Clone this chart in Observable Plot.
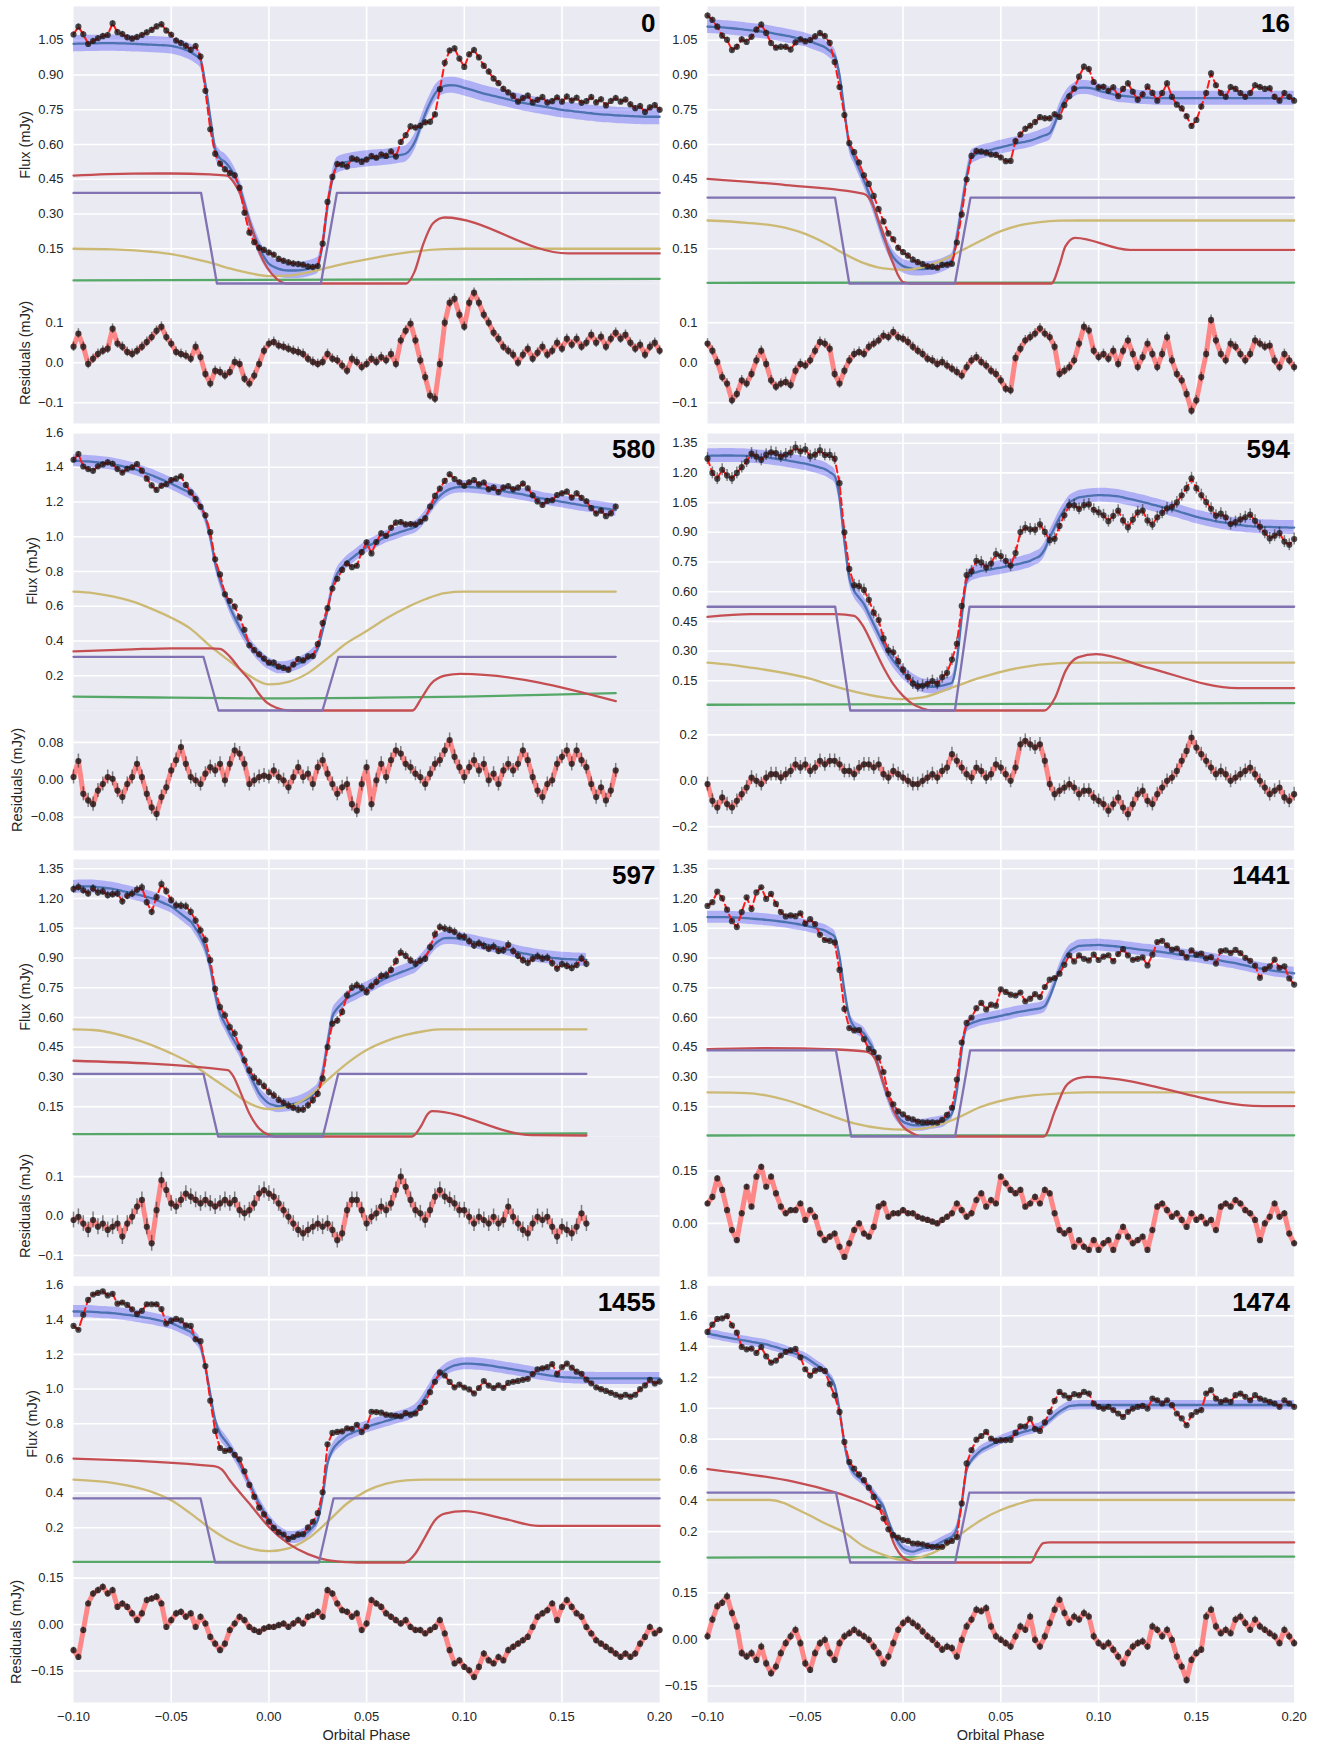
<!DOCTYPE html>
<html><head><meta charset="utf-8">
<script src="https://cdn.jsdelivr.net/npm/d3@7"></script>
<script src="https://cdn.jsdelivr.net/npm/@observablehq/plot@0.6"></script>
<style>
body{margin:0;background:#fff;}
#fig{position:relative;width:1319px;height:1744px;background:#fff;font-family:"Liberation Sans",Arial,sans-serif;color:#262626;overflow:hidden}
.lbl{position:absolute;font-size:14.5px;white-space:nowrap;color:#262626;line-height:1}
.vl{transform:translate(-50%,-50%) rotate(-90deg)}
.hl{transform:translate(-50%,-50%)}
.num{position:absolute;font-weight:bold;font-size:26px;color:#000;line-height:1;transform:translateX(-100%)}
</style></head><body><div id="fig"></div>
<script>
// ---------- DATA ----------
const PHASE = [-0.1,-0.0975,-0.095,-0.0925,-0.09,-0.0875,-0.085,-0.0825,-0.08,-0.0775,
-0.075,-0.0725,-0.07,-0.0675,-0.065,-0.0625,-0.06,-0.0575,-0.055,-0.0525,
-0.05,-0.0475,-0.045,-0.0425,-0.04,-0.0375,-0.035,-0.0325,-0.03,-0.0275,
-0.025,-0.0225,-0.02,-0.0175,-0.015,-0.0125,-0.01,-0.0075,-0.005,-0.0025,
0,0.0025,0.005,0.0075,0.01,0.0125,0.015,0.0175,0.02,0.0225,
0.025,0.0275,0.03,0.0325,0.035,0.0375,0.04,0.0425,0.045,0.0475,
0.05,0.0525,0.055,0.0575,0.06,0.0625,0.065,0.0675,0.07,0.0725,
0.075,0.0775,0.08,0.0825,0.085,0.0875,0.09,0.0925,0.095,0.0975,
0.1,0.1025,0.105,0.1075,0.11,0.1125,0.115,0.1175,0.12,0.1225,
0.125,0.1275,0.13,0.1325,0.135,0.1375,0.14,0.1425,0.145,0.1475,
0.15,0.1525,0.155,0.1575,0.16,0.1625,0.165,0.1675,0.17,0.1725,
0.175,0.1775,0.18,0.1825,0.185,0.1875,0.19,0.1925,0.195,0.1975,
0.2];
const XTICKS = [-0.1,-0.05,0,0.05,0.1,0.15,0.2];
const XGRID = [-0.05,0,0.05,0.1,0.15];

// ----- panel 0 -----
const model0 = [1.035,1.036,1.036,1.037,1.037,1.037,1.038,1.038,1.038,1.037,
1.037,1.036,1.035,1.034,1.033,1.032,1.031,1.03,1.029,1.028,
1.026,1.022,1.016,1.008,0.999,0.985,0.966,0.86,0.718,0.58,
0.54,0.525,0.5,0.465,0.416,0.345,0.272,0.21,0.157,0.115,
0.085,0.072,0.063,0.058,0.056,0.056,0.057,0.059,0.063,0.069,
0.078,0.17,0.33,0.45,0.51,0.52,0.525,0.53,0.533,0.536,
0.538,0.54,0.541,0.543,0.545,0.548,0.551,0.555,0.56,0.58,
0.617,0.675,0.732,0.78,0.82,0.842,0.853,0.856,0.855,0.851,
0.845,0.839,0.833,0.826,0.82,0.815,0.81,0.805,0.8,0.795,
0.79,0.785,0.78,0.776,0.772,0.768,0.765,0.761,0.757,0.753,
0.75,0.747,0.745,0.742,0.74,0.737,0.735,0.732,0.73,0.729,
0.728,0.726,0.725,0.724,0.723,0.722,0.721,0.72,0.72,0.72,
0.72];
const res0 = [0.04,0.073,0.04,-0.003,0.01,0.022,0.03,0.035,0.085,0.048,
0.04,0.027,0.022,0.03,0.04,0.052,0.064,0.08,0.09,0.064,
0.048,0.027,0.022,0.018,0.01,0.04,0.014,-0.028,-0.052,-0.02,
-0.023,-0.032,-0.023,0.002,-0.003,-0.04,-0.052,-0.032,-0.003,0.03,
0.048,0.052,0.043,0.04,0.035,0.03,0.027,0.022,0.01,0.002,
-0.003,0.002,0.022,0.01,0.006,-0.007,-0.02,0.01,0.002,-0.011,
-0.003,0.01,0.002,0.014,0.006,0.022,-0.003,0.056,0.08,0.098,
0.056,0.006,-0.036,-0.082,-0.09,-0.003,0.1,0.15,0.16,0.12,
0.09,0.15,0.175,0.15,0.12,0.1,0.075,0.06,0.04,0.03,
0.02,0.0,0.02,0.035,0.01,0.025,0.04,0.02,0.03,0.05,
0.035,0.06,0.045,0.06,0.04,0.05,0.07,0.05,0.065,0.04,
0.06,0.075,0.06,0.07,0.05,0.035,0.045,0.02,0.04,0.05,
0.03];
const purple0 = [[-0.1,0.391],[-0.0347,0.391],[-0.0266,0],[0.0266,0],[0.0348,0.391],[0.2,0.391]];
const red0 = [[-0.1,0.466],[-0.07,0.474],[-0.05,0.475],[-0.03,0.471],[-0.0215,0.466],[-0.018,0.437],[-0.0147,0.387],[-0.0113,0.3],[-0.0079,0.214],[-0.0045,0.128],[-0.001,0.07],[0.004,0.02],[0.009,0],[0.0703,0],[0.0745,0.05],[0.079,0.17],[0.084,0.26],[0.09,0.285],[0.153,0.13],[0.2,0.13]];
const yellow0 = [[-0.1,0.15],[-0.08,0.147],[-0.06,0.137],[-0.05,0.127],[-0.04,0.11],[-0.03,0.09],[-0.02,0.065],[-0.01,0.045],[0,0.032],[0.01,0.034],[0.02,0.048],[0.03,0.068],[0.04,0.088],[0.05,0.104],[0.06,0.12],[0.07,0.133],[0.08,0.143],[0.09,0.148],[0.1,0.15],[0.2,0.15]];
const green0 = [[-0.1,0.013],[0.2,0.02]];

// ----- panel 16 -----
const model16 = [1.109,1.108,1.107,1.106,1.104,1.102,1.1,1.098,1.095,1.093,
1.09,1.088,1.085,1.082,1.078,1.074,1.07,1.066,1.061,1.057,
1.052,1.045,1.037,1.029,1.02,1.004,0.984,0.9,0.747,0.6,
0.545,0.495,0.445,0.39,0.33,0.265,0.2,0.152,0.114,0.09,
0.075,0.068,0.063,0.062,0.062,0.064,0.066,0.071,0.078,0.088,
0.1,0.2,0.33,0.46,0.545,0.558,0.567,0.572,0.577,0.583,
0.588,0.593,0.598,0.603,0.608,0.612,0.617,0.624,0.632,0.64,
0.649,0.69,0.747,0.79,0.819,0.835,0.845,0.846,0.845,0.84,
0.833,0.827,0.822,0.817,0.812,0.81,0.808,0.806,0.804,0.803,
0.802,0.801,0.8,0.8,0.8,0.8,0.8,0.8,0.8,0.8,
0.8,0.8,0.8,0.8,0.8,0.8,0.8,0.8,0.8,0.8,
0.8,0.8,0.8,0.8,0.8,0.8,0.8,0.8,0.8,0.8,
0.8];
const res16 = [0.048,0.03,0.002,-0.036,-0.052,-0.094,-0.078,-0.044,-0.052,-0.028,
0.006,0.03,-0.003,-0.044,-0.06,-0.052,-0.048,-0.056,-0.02,-0.003,
-0.007,0.006,0.03,0.052,0.048,0.035,-0.028,-0.052,-0.02,0.006,
0.022,0.027,0.022,0.04,0.048,0.056,0.068,0.064,0.077,0.064,
0.06,0.052,0.04,0.03,0.022,0.01,0.006,-0.003,0.002,-0.007,
-0.015,-0.023,-0.032,-0.011,0.006,0.014,0.002,-0.007,-0.02,-0.028,
-0.044,-0.065,-0.069,0.012,0.035,0.056,0.064,0.073,0.086,0.073,
0.064,0.04,-0.028,-0.02,-0.011,0.006,0.048,0.09,0.081,0.03,
0.014,0.022,0.01,0.03,-0.003,0.03,0.056,0.022,-0.011,0.014,
0.048,0.022,-0.011,0.022,0.064,0.006,-0.028,-0.044,-0.078,-0.12,
-0.094,-0.036,0.022,0.107,0.056,0.022,0.006,0.048,0.04,0.022,
0.006,0.022,0.056,0.048,0.04,0.043,0.006,-0.011,0.022,0.006,
-0.011];
const purple16 = [[-0.1,0.371],[-0.0348,0.371],[-0.0275,0],[0.0265,0],[0.0345,0.371],[0.2,0.371]];
const red16 = [[-0.1,0.452],[-0.06,0.425],[-0.02,0.387],[-0.0175,0.37],[-0.015,0.33],[-0.0125,0.27],[-0.01,0.214],[-0.0075,0.14],[-0.005,0.085],[-0.0025,0.035],[0,0.006],[0.004,0],[0.0758,0],[0.08,0.08],[0.083,0.16],[0.088,0.197],[0.116,0.145],[0.2,0.145]];
const yellow16 = [[-0.1,0.272],[-0.08,0.262],[-0.06,0.24],[-0.05,0.214],[-0.04,0.175],[-0.03,0.128],[-0.02,0.088],[-0.01,0.065],[0,0.059],[0.01,0.07],[0.02,0.1],[0.03,0.142],[0.04,0.186],[0.05,0.226],[0.06,0.252],[0.07,0.265],[0.08,0.271],[0.09,0.272],[0.2,0.272]];
const green16 = [[-0.1,0.003],[0.2,0.004]];

// ----- panel 580 -----
const model580 = [1.437,1.436,1.434,1.433,1.431,1.428,1.425,1.422,1.418,1.412,
1.406,1.4,1.393,1.384,1.374,1.364,1.354,1.342,1.33,1.318,
1.306,1.292,1.278,1.264,1.249,1.218,1.181,1.11,0.999,0.85,
0.749,0.67,0.596,0.535,0.48,0.43,0.384,0.348,0.317,0.29,
0.269,0.255,0.246,0.246,0.25,0.258,0.269,0.282,0.298,0.322,
0.355,0.461,0.576,0.711,0.788,0.825,0.855,0.877,0.899,0.92,
0.941,0.956,0.97,0.985,0.999,1.009,1.018,1.028,1.037,1.046,
1.057,1.08,1.114,1.16,1.201,1.235,1.258,1.274,1.283,1.286,
1.287,1.286,1.284,1.281,1.278,1.274,1.27,1.266,1.262,1.257,
1.253,1.248,1.243,1.237,1.232,1.226,1.22,1.215,1.211,1.206,
1.201,1.196,1.191,1.186,1.181,1.177,1.174,1.17,1.166,1.162,
1.157,1.153];
const res580 = [0.006,0.04,-0.03,-0.044,-0.052,-0.023,-0.009,0.006,0.002,-0.023,
-0.037,-0.009,0.006,0.034,0.006,-0.03,-0.059,-0.073,-0.037,-0.016,
0.02,0.042,0.07,0.034,0.006,-0.001,-0.009,0.013,0.027,0.02,
0.034,-0.001,0.034,0.063,0.056,0.034,-0.009,-0.001,0.006,0.009,
0.006,0.02,0.006,-0.001,-0.016,0.006,0.027,0.006,0.013,-0.009,
0.027,0.042,0.013,-0.009,-0.03,-0.016,-0.009,-0.052,-0.066,-0.009,
0.027,-0.052,-0.001,0.034,0.006,0.042,0.063,0.056,0.034,0.027,
0.013,0.006,-0.009,0.013,0.034,0.042,0.063,0.085,0.049,0.027,
0.006,0.027,0.042,0.02,0.034,-0.001,0.013,-0.009,0.02,0.034,
0.02,0.034,0.063,0.042,0.006,-0.023,-0.037,-0.009,-0.001,0.034,
0.049,0.063,0.034,0.063,0.042,0.027,-0.009,-0.037,-0.016,-0.044,
-0.023,0.02];
const purple580 = [[-0.1,0.309],[-0.0335,0.309],[-0.0258,0],[0.0274,0],[0.0355,0.309],[0.1775,0.309]];
const red580 = [[-0.1,0.34],[-0.07,0.352],[-0.05,0.358],[-0.03,0.358],[-0.025,0.355],[-0.02,0.31],[-0.015,0.24],[-0.0095,0.17],[-0.005,0.095],[-0.001,0.045],[0.004,0.015],[0.0075,0.004],[0.0125,0],[0.0735,0],[0.078,0.07],[0.083,0.154],[0.09,0.2],[0.098,0.211],[0.1775,0.054]];
const yellow580 = [[-0.1,0.684],[-0.09,0.676],[-0.08,0.657],[-0.07,0.628],[-0.06,0.585],[-0.05,0.534],[-0.04,0.47],[-0.03,0.37],[-0.02,0.283],[-0.01,0.2],[0,0.15],[0.01,0.165],[0.02,0.215],[0.03,0.3],[0.04,0.39],[0.05,0.457],[0.06,0.53],[0.07,0.59],[0.08,0.64],[0.09,0.676],[0.1,0.684],[0.1775,0.684]];
const green580 = [[-0.1,0.08],[-0.05,0.074],[0,0.07],[0.05,0.073],[0.1,0.08],[0.14,0.09],[0.1775,0.1]];

// ----- panel 594 -----
const model594 = [1.286,1.287,1.287,1.288,1.288,1.288,1.287,1.287,1.286,1.284,
1.282,1.28,1.278,1.275,1.271,1.268,1.264,1.26,1.256,1.251,
1.247,1.241,1.234,1.227,1.219,1.204,1.185,1.076,0.857,0.672,
0.604,0.57,0.537,0.487,0.436,0.385,0.335,0.29,0.251,0.22,
0.192,0.17,0.15,0.136,0.125,0.121,0.12,0.121,0.125,0.132,
0.141,0.25,0.47,0.655,0.689,0.698,0.705,0.709,0.713,0.718,
0.722,0.727,0.732,0.737,0.742,0.749,0.756,0.768,0.781,0.815,
0.874,0.925,0.975,1.015,1.05,1.065,1.076,1.08,1.084,1.086,
1.088,1.087,1.086,1.084,1.081,1.076,1.07,1.065,1.059,1.053,
1.047,1.04,1.034,1.027,1.021,1.014,1.008,1.0,0.993,0.985,
0.978,0.972,0.966,0.961,0.955,0.951,0.947,0.942,0.938,0.936,
0.933,0.931,0.929,0.928,0.927,0.927,0.926,0.925,0.925,0.924,
0.924];
const res594 = [-0.014,-0.087,-0.116,-0.072,-0.101,-0.116,-0.087,-0.058,-0.029,0.014,
0.0,-0.014,0.014,0.029,0.029,0.014,0.029,0.043,0.072,0.058,
0.072,0.043,0.058,0.087,0.072,0.087,0.087,0.072,0.043,0.043,
0.029,0.058,0.072,0.072,0.058,0.072,0.029,0.014,0.043,0.029,
0.014,0.0,-0.014,-0.014,0.0,0.014,0.029,0.014,0.043,0.058,
0.116,0.087,0.058,0.029,0.014,0.058,0.043,0.014,0.029,0.072,
0.058,0.029,0.0,0.058,0.159,0.174,0.159,0.145,0.159,0.087,
-0.014,-0.058,-0.043,-0.029,-0.014,-0.029,-0.058,-0.043,-0.043,-0.072,
-0.087,-0.101,-0.13,-0.101,-0.072,-0.116,-0.145,-0.101,-0.058,-0.043,
-0.087,-0.101,-0.058,-0.029,0.0,0.014,0.043,0.087,0.13,0.188,
0.145,0.116,0.087,0.058,0.029,0.043,0.029,0.0,0.014,0.029,
0.043,0.058,0.029,0.0,-0.029,-0.058,-0.043,-0.029,-0.072,-0.087,
-0.058];
const purple594 = [[-0.1,0.524],[-0.0347,0.524],[-0.027,0],[0.0265,0],[0.034,0.524],[0.2,0.524]];
const red594 = [[-0.1,0.473],[-0.078,0.487],[-0.034,0.487],[-0.025,0.478],[-0.02,0.419],[-0.015,0.318],[-0.01,0.217],[-0.005,0.133],[0,0.074],[0.005,0.032],[0.01,0.01],[0.015,0],[0.0722,0],[0.0778,0.066],[0.0831,0.2],[0.0894,0.268],[0.0988,0.285],[0.125,0.217],[0.1711,0.113],[0.2,0.113]];
const yellow594 = [[-0.1,0.242],[-0.09,0.233],[-0.078,0.217],[-0.05,0.167],[-0.03,0.108],[-0.01,0.066],[0,0.057],[0.01,0.066],[0.025,0.116],[0.04,0.167],[0.06,0.217],[0.08,0.239],[0.093,0.242],[0.2,0.242]];
const green594 = [[-0.1,0.029],[0.2,0.037]];

// ----- panel 597 -----
const model597 = [1.258,1.26,1.261,1.261,1.261,1.258,1.255,1.252,1.249,1.244,
1.238,1.233,1.227,1.221,1.215,1.209,1.202,1.192,1.182,1.171,
1.16,1.142,1.123,1.104,1.084,1.048,1.008,0.95,0.857,0.72,
0.621,0.57,0.52,0.478,0.436,0.377,0.318,0.265,0.217,0.188,
0.167,0.158,0.153,0.155,0.158,0.164,0.17,0.18,0.192,0.21,
0.234,0.32,0.47,0.604,0.646,0.672,0.697,0.71,0.722,0.735,
0.747,0.76,0.773,0.786,0.798,0.808,0.818,0.828,0.837,0.847,
0.857,0.88,0.907,0.94,0.971,0.99,1.0,1.001,1.0,0.996,
0.992,0.987,0.982,0.976,0.971,0.966,0.96,0.955,0.949,0.943,
0.937,0.93,0.924,0.92,0.915,0.911,0.907,0.904,0.901,0.899,
0.896,0.895,0.894,0.892,0.891,0.89];
const res597 = [-0.01,-0.002,-0.019,-0.035,-0.01,-0.027,-0.019,-0.035,-0.027,-0.019,
-0.052,-0.019,-0.002,0.024,0.041,-0.027,-0.069,0.015,0.091,0.066,
0.032,0.024,0.041,0.057,0.049,0.041,0.032,0.041,0.032,0.024,
0.032,0.041,0.032,0.041,0.015,0.007,0.015,0.032,0.057,0.066,
0.057,0.049,0.032,0.015,-0.002,-0.019,-0.035,-0.044,-0.035,-0.027,
-0.019,-0.027,-0.019,-0.035,-0.061,-0.044,0.015,0.041,0.041,0.015,
-0.019,-0.002,0.007,0.024,0.015,0.032,0.066,0.1,0.074,0.041,
0.015,0.007,-0.01,0.015,0.049,0.066,0.049,0.041,0.032,0.015,
0.015,-0.002,-0.019,-0.002,-0.01,-0.019,-0.002,-0.019,-0.01,0.024,
-0.002,-0.019,-0.035,-0.044,-0.019,-0.002,-0.01,-0.002,-0.027,-0.052,
-0.027,-0.035,-0.044,-0.027,0.007,-0.019];
const purple597 = [[-0.1,0.316],[-0.0335,0.316],[-0.026,0],[0.0276,0],[0.0355,0.316],[0.1625,0.316]];
const red597 = [[-0.1,0.382],[-0.021,0.335],[-0.018,0.3],[-0.015,0.234],[-0.01,0.116],[-0.005,0.04],[0,0.007],[0.003,0],[0.0732,0],[0.0783,0.06],[0.081,0.11],[0.0835,0.128],[0.1345,0.007],[0.1625,0.005]];
const yellow597 = [[-0.1,0.54],[-0.09,0.537],[-0.07,0.495],[-0.05,0.419],[-0.04,0.369],[-0.03,0.301],[-0.02,0.234],[-0.01,0.167],[0,0.138],[0.01,0.15],[0.02,0.2],[0.03,0.285],[0.04,0.369],[0.05,0.436],[0.06,0.481],[0.07,0.512],[0.08,0.532],[0.088,0.54],[0.1625,0.54]];
const green597 = [[-0.1,0.012],[0.1625,0.015]];

// ----- panel 1441 -----
const model1441 = [1.106,1.106,1.106,1.106,1.106,1.105,1.104,1.103,1.101,1.099,
1.097,1.095,1.093,1.09,1.087,1.084,1.081,1.077,1.073,1.069,
1.064,1.058,1.052,1.046,1.039,1.025,1.008,0.907,0.739,0.604,
0.554,0.537,0.52,0.48,0.436,0.35,0.268,0.195,0.133,0.098,
0.074,0.064,0.057,0.056,0.057,0.061,0.066,0.07,0.074,0.09,
0.116,0.23,0.436,0.554,0.571,0.58,0.588,0.593,0.598,0.603,
0.608,0.614,0.619,0.625,0.63,0.634,0.638,0.642,0.646,0.658,
0.705,0.77,0.84,0.895,0.933,0.95,0.961,0.963,0.964,0.965,
0.966,0.964,0.962,0.96,0.958,0.955,0.951,0.948,0.944,0.941,
0.939,0.936,0.933,0.93,0.926,0.923,0.919,0.916,0.913,0.91,
0.907,0.903,0.899,0.895,0.891,0.887,0.882,0.878,0.874,0.868,
0.863,0.857,0.852,0.848,0.844,0.839,0.835,0.832,0.829,0.826,
0.823];
const res1441 = [0.057,0.076,0.129,0.096,0.038,-0.019,-0.048,0.029,0.105,0.048,
0.134,0.162,0.105,0.134,0.086,0.048,0.029,0.038,0.038,0.057,
0.01,0.038,0.019,-0.029,-0.048,-0.038,-0.029,-0.067,-0.096,-0.057,
-0.019,0.0,-0.029,-0.038,-0.01,0.048,0.057,0.019,0.029,0.029,
0.038,0.029,0.029,0.019,0.014,0.01,0.005,0.0,0.01,0.019,
0.029,0.057,0.038,0.019,0.029,0.067,0.086,0.048,0.067,0.057,
0.134,0.115,0.096,0.086,0.096,0.048,0.057,0.076,0.057,0.096,
0.086,0.029,-0.019,-0.029,-0.019,-0.067,-0.048,-0.067,-0.076,-0.048,
-0.076,-0.057,-0.048,-0.076,-0.038,-0.01,-0.038,-0.057,-0.048,-0.038,
-0.076,-0.019,0.048,0.057,0.038,0.019,0.029,0.01,-0.01,0.029,
0.01,0.019,0.0,0.01,-0.019,0.048,0.057,0.048,0.067,0.057,
0.038,0.029,0.01,-0.048,0.0,0.019,0.057,0.019,0.029,-0.029,
-0.057];
const purple1441 = [[-0.1,0.434],[-0.0343,0.434],[-0.0265,0],[0.0266,0],[0.0343,0.434],[0.2,0.434]];
const red1441 = [[-0.1,0.441],[-0.07,0.446],[-0.034,0.439],[-0.019,0.428],[-0.015,0.402],[-0.01,0.268],[-0.005,0.133],[0,0.049],[0.005,0.015],[0.01,0],[0.072,0],[0.0778,0.133],[0.083,0.251],[0.089,0.293],[0.094,0.301],[0.184,0.153],[0.2,0.153]];
const yellow1441 = [[-0.1,0.222],[-0.08,0.219],[-0.07,0.207],[-0.06,0.184],[-0.05,0.152],[-0.04,0.116],[-0.025,0.066],[-0.01,0.04],[0,0.035],[0.01,0.04],[0.025,0.082],[0.04,0.15],[0.06,0.2],[0.08,0.217],[0.093,0.222],[0.2,0.222]];
const green1441 = [[-0.1,0.005],[0.2,0.006]];

// ----- panel 1455 -----
const model1455 = [1.447,1.447,1.446,1.446,1.445,1.443,1.441,1.44,1.438,1.435,
1.431,1.428,1.424,1.419,1.415,1.41,1.405,1.399,1.393,1.386,
1.38,1.368,1.355,1.342,1.328,1.295,1.251,1.13,0.973,0.82,
0.743,0.705,0.666,0.618,0.57,0.512,0.455,0.397,0.34,0.29,
0.244,0.207,0.177,0.158,0.144,0.144,0.148,0.16,0.177,0.205,
0.244,0.38,0.57,0.647,0.685,0.71,0.733,0.746,0.758,0.77,
0.781,0.79,0.799,0.807,0.816,0.824,0.832,0.84,0.848,0.86,
0.877,0.91,0.954,1.0,1.05,1.082,1.107,1.124,1.136,1.142,
1.146,1.146,1.145,1.143,1.14,1.136,1.132,1.127,1.123,1.118,
1.114,1.109,1.104,1.099,1.094,1.089,1.084,1.08,1.076,1.072,
1.069,1.067,1.066,1.064,1.063,1.062,1.062,1.061,1.061,1.061,
1.061,1.061,1.061,1.061,1.061,1.061,1.061,1.061,1.061,1.061,
1.061];
const res1455 = [-0.083,-0.105,-0.018,0.068,0.1,0.111,0.122,0.1,0.111,0.057,
0.068,0.057,0.036,0.014,0.036,0.079,0.084,0.09,0.068,-0.008,
0.014,0.036,0.041,0.025,0.036,-0.008,0.025,0.003,-0.04,-0.062,
-0.083,-0.062,-0.018,0.003,0.025,0.014,-0.008,-0.018,-0.024,-0.013,
-0.008,-0.008,-0.002,0.003,-0.008,0.003,0.014,0.003,0.025,0.03,
0.041,0.025,0.111,0.1,0.068,0.046,0.041,0.025,0.036,-0.018,
0.003,0.079,0.068,0.057,0.036,0.025,0.014,0.003,0.014,-0.008,
-0.018,-0.018,-0.029,-0.018,-0.008,0.014,-0.029,-0.083,-0.126,-0.116,
-0.137,-0.148,-0.17,-0.137,-0.094,-0.116,-0.126,-0.105,-0.116,-0.083,
-0.072,-0.062,-0.051,-0.04,-0.008,0.025,0.036,0.046,0.068,0.014,
0.057,0.079,0.057,0.036,0.025,-0.008,-0.029,-0.051,-0.062,-0.072,
-0.083,-0.094,-0.105,-0.094,-0.105,-0.094,-0.062,-0.04,-0.008,-0.029,
-0.018];
const purple1455 = [[-0.1,0.37],[-0.035,0.37],[-0.0275,0],[0.0256,0],[0.0331,0.37],[0.2,0.37]];
const red1455 = [[-0.1,0.599],[-0.028,0.555],[-0.024,0.535],[-0.02,0.474],[-0.01,0.34],[0,0.205],[0.01,0.109],[0.02,0.048],[0.03,0.013],[0.04,0.002],[0.045,0],[0.0694,0],[0.075,0.052],[0.08,0.148],[0.085,0.244],[0.09,0.282],[0.1,0.296],[0.12,0.253],[0.138,0.211],[0.2,0.211]];
const yellow1455 = [[-0.1,0.478],[-0.08,0.459],[-0.06,0.407],[-0.05,0.359],[-0.04,0.282],[-0.03,0.196],[-0.02,0.125],[-0.01,0.081],[0,0.065],[0.01,0.081],[0.02,0.138],[0.03,0.234],[0.04,0.34],[0.05,0.413],[0.06,0.455],[0.07,0.474],[0.08,0.478],[0.2,0.478]];
const green1455 = [[-0.1,0.004],[0.2,0.004]];

// ----- panel 1474 -----
const model1474 = [1.485,1.478,1.472,1.465,1.459,1.453,1.448,1.442,1.437,1.431,
1.425,1.42,1.414,1.405,1.396,1.386,1.377,1.365,1.354,1.342,
1.33,1.31,1.288,1.266,1.243,1.2,1.15,0.988,0.772,0.632,
0.578,0.551,0.524,0.486,0.448,0.405,0.362,0.27,0.189,0.13,
0.092,0.076,0.07,0.08,0.092,0.098,0.103,0.118,0.135,0.152,
0.168,0.22,0.384,0.6,0.664,0.7,0.729,0.746,0.762,0.778,
0.794,0.806,0.818,0.83,0.841,0.85,0.858,0.867,0.876,0.898,
0.924,0.952,0.978,0.998,1.014,1.018,1.021,1.021,1.021,1.021,
1.021,1.021,1.021,1.021,1.021,1.021,1.021,1.021,1.021,1.021,
1.021,1.021,1.021,1.021,1.021,1.021,1.021,1.021,1.021,1.021,
1.021,1.021,1.021,1.021,1.021,1.021,1.021,1.021,1.021,1.021,
1.021,1.021,1.021,1.021,1.021,1.021,1.021,1.021,1.021,1.021,
1.021];
const res1474 = [0.01,0.064,0.107,0.118,0.139,0.085,0.042,-0.044,-0.055,-0.044,
-0.066,-0.023,-0.077,-0.109,-0.087,-0.044,-0.012,0.01,0.031,-0.012,
-0.077,-0.098,-0.044,-0.012,-0.001,-0.044,-0.066,-0.012,0.01,0.02,
0.031,0.02,0.01,-0.001,-0.023,-0.044,-0.077,-0.055,-0.012,0.031,
0.053,0.064,0.053,0.042,0.026,0.01,-0.001,-0.017,-0.033,-0.023,
-0.028,-0.055,-0.001,0.042,0.064,0.096,0.091,0.101,0.042,0.01,
-0.001,-0.012,-0.023,0.01,0.042,0.031,0.074,-0.001,-0.023,0.01,
0.053,0.096,0.128,0.085,0.053,0.074,0.064,0.085,0.074,0.01,
-0.012,-0.023,-0.012,-0.033,-0.055,-0.077,-0.044,-0.023,-0.012,-0.006,
-0.023,0.042,0.031,0.01,0.031,-0.001,-0.055,-0.087,-0.131,-0.066,
-0.044,-0.033,0.074,0.096,0.042,0.02,0.031,0.02,0.064,0.074,
0.053,0.031,0.064,0.042,0.031,0.02,0.01,-0.012,0.031,0.01,
-0.012];
const purple1474 = [[-0.1,0.453],[-0.0343,0.453],[-0.027,0],[0.0266,0],[0.0339,0.453],[0.2,0.453]];
const red1474 = [[-0.1,0.606],[-0.011,0.34],[-0.008,0.26],[-0.006,0.168],[-0.0005,0.038],[0.004,0.006],[0.006,0],[0.0653,0],[0.0685,0.07],[0.0717,0.125],[0.075,0.13],[0.2,0.13]];
const yellow1474 = [[-0.1,0.405],[-0.068,0.405],[-0.05,0.319],[-0.04,0.254],[-0.03,0.194],[-0.02,0.103],[-0.01,0.049],[0,0.016],[0.01,0.038],[0.02,0.092],[0.03,0.189],[0.04,0.276],[0.05,0.34],[0.06,0.384],[0.067,0.405],[0.2,0.405]];
const green1474 = [[-0.1,0.032],[0.2,0.038]];

// tick lists
const T015a = [0.15,0.3,0.45,0.6,0.75,0.9,1.05];
const T015b = [0.15,0.3,0.45,0.6,0.75,0.9,1.05,1.2,1.35];
const T02a = [0.2,0.4,0.6,0.8,1.0,1.2,1.4,1.6];
const T02b = [0.2,0.4,0.6,0.8,1.0,1.2,1.4,1.6,1.8];

// ---------- LAYOUT / STYLE ----------
const BG = "#EAEAF2";
const COLX = [73.3, 707.3], COLW = [586.2, 586.7];
const ROWY = [6, 432.7, 858.7, 1285];
const FLUXH = 277, RESH = 140, ML = 70;
const C_RED = "#C44E52", C_PUR = "#8172B2", C_YEL = "#CCB974", C_GRN = "#55A868", C_BLUE = "#4C72B0";

const panels = [
 {name:"0", col:0,row:0, model:model0,res:res0,purple:purple0,red:red0,yellow:yellow0,green:green0, fmax:1.196, rdom:[-0.152,0.198], ft:T015a, ff:".2f", rt:[-0.1,0,0.1], rf:".1f", band:0.035, err:0.012, flx:25, rlx:25},
 {name:"16", col:1,row:0, model:model16,res:res16,purple:purple16,red:red16,yellow:yellow16,green:green16, fmax:1.196, rdom:[-0.152,0.198], ft:T015a, ff:".2f", rt:[-0.1,0,0.1], rf:".1f", band:0.03, err:0.012},
 {name:"580", col:0,row:1, model:model580,res:res580,purple:purple580,red:red580,yellow:yellow580,green:green580, fmax:1.594, rdom:[-0.151,0.148], ft:T02a, ff:".1f", rt:[-0.08,0,0.08], rf:".2f", band:0.035, err:0.015, flx:31.7, rlx:16.7},
 {name:"594", col:1,row:1, model:model594,res:res594,purple:purple594,red:red594,yellow:yellow594,green:green594, fmax:1.399, rdom:[-0.303,0.306], ft:T015b, ff:".2f", rt:[-0.2,0,0.2], rf:".1f", band:0.035, err:0.03},
 {name:"597", col:0,row:2, model:model597,res:res597,purple:purple597,red:red597,yellow:yellow597,green:green597, fmax:1.397, rdom:[-0.153,0.2015], ft:T015b, ff:".2f", rt:[-0.1,0,0.1], rf:".1f", band:0.033, err:0.02, flx:25, rlx:25},
 {name:"1441", col:1,row:2, model:model1441,res:res1441,purple:purple1441,red:red1441,yellow:yellow1441,green:green1441, fmax:1.397, rdom:[-0.152,0.249], ft:T015b, ff:".2f", rt:[0,0.15], rf:".2f", band:0.03, err:0.008},
 {name:"1455", col:0,row:3, model:model1455,res:res1455,purple:purple1455,red:red1455,yellow:yellow1455,green:green1455, fmax:1.597, rdom:[-0.252,0.2006], ft:T02a, ff:".1f", rt:[-0.15,0,0.15], rf:".2f", band:0.035, err:0.01, flx:31.7, rlx:15.6},
 {name:"1474", col:1,row:3, model:model1474,res:res1474,purple:purple1474,red:red1474,yellow:yellow1474,green:green1474, fmax:1.796, rdom:[-0.203,0.248], ft:T02b, ff:".1f", rt:[-0.15,0,0.15], rf:".2f", band:0.03, err:0.012}
];

const fig = document.getElementById("fig");
const baseStyle = {background:"transparent", overflow:"visible", fontFamily:'"Liberation Sans", Arial, sans-serif', fontSize:"13px", color:"#262626"};
const gridOpts = {stroke:"#fff", strokeOpacity:1, strokeWidth:1.6};

function compLine(arr, color, curve) {
  return Plot.line(arr, {x: d => d[0], y: d => d[1], stroke: color, strokeWidth: 2.3, curve: curve || "monotone-x"});
}
function place(svg, left, top) {
  svg.style.position = "absolute";
  svg.style.left = left + "px";
  svg.style.top = top + "px";
  fig.appendChild(svg);
}
function addDiv(cls, text, left, top) {
  const d = document.createElement("div");
  d.className = cls; d.textContent = text;
  d.style.left = left + "px"; d.style.top = top + "px";
  fig.appendChild(d);
}

for (const p of panels) {
  const n = p.res.length;
  const pts = d3.range(n).map(i => ({x: PHASE[i], m: p.model[i], r: p.res[i], f: p.model[i] + p.res[i]}));
  const x0 = COLX[p.col], w = COLW[p.col], top = ROWY[p.row];
  const bottom = p.row === 3;

  // residuals
  const resMarks = [
    Plot.frame({fill: BG, stroke: "none"}),
    Plot.gridX(XGRID, gridOpts),
    Plot.gridY(p.rt, gridOpts),
    Plot.axisY(p.rt, {tickSize: 0, tickPadding: 10, tickFormat: d3.format(p.rf), label: null, fontSize: 13}),
    Plot.line(pts, {x: "x", y: "r", stroke: "#ff7b7b", strokeOpacity: 0.9, strokeWidth: 5}),
    Plot.ruleX(pts, {x: "x", y1: d => d.r - p.err, y2: d => d.r + p.err, stroke: "#222", strokeOpacity: 0.55, strokeWidth: 1.5}),
    Plot.dot(pts, {x: "x", y: "r", r: 3.1, fill: "#141414", fillOpacity: 0.75, stroke: "none"})
  ];
  if (bottom) resMarks.push(Plot.axisX(XTICKS, {tickSize: 0, tickPadding: 9, tickFormat: d3.format(".2f"), label: null, fontSize: 13}));
  const resPlot = Plot.plot({
    width: ML + w, height: RESH + (bottom ? 30 : 0),
    marginLeft: ML, marginRight: 0, marginTop: 0, marginBottom: bottom ? 30 : 0,
    x: bottom ? {domain: [-0.1, 0.2]} : {domain: [-0.1, 0.2], axis: null},
    y: {domain: p.rdom},
    style: baseStyle,
    marks: resMarks
  });
  place(resPlot, x0 - ML, top + FLUXH);

  // flux
  const fluxPlot = Plot.plot({
    width: ML + w, height: FLUXH,
    marginLeft: ML, marginRight: 0, marginTop: 0, marginBottom: 0,
    x: {domain: [-0.1, 0.2], axis: null},
    y: {domain: [0, p.fmax]},
    style: baseStyle,
    marks: [
      Plot.frame({fill: BG, stroke: "none"}),
      Plot.gridX(XGRID, gridOpts),
      Plot.gridY(p.ft, gridOpts),
      Plot.axisY(p.ft, {tickSize: 0, tickPadding: 10, tickFormat: d3.format(p.ff), label: null, fontSize: 13}),
      Plot.areaY(pts, {x: "x", y1: d => d.m - p.band, y2: d => d.m + p.band, fill: "blue", fillOpacity: 0.25, curve: "monotone-x"}),
      Plot.line(pts, {x: "x", y: "m", stroke: C_BLUE, strokeWidth: 2.3, curve: "monotone-x"}),
      compLine(p.green, C_GRN),
      compLine(p.yellow, C_YEL),
      compLine(p.red, C_RED),
      compLine(p.purple, C_PUR, "linear"),
      Plot.ruleX(pts, {x: "x", y1: d => d.f - p.err, y2: d => d.f + p.err, stroke: "#222", strokeOpacity: 0.55, strokeWidth: 1.5}),
      Plot.line(pts, {x: "x", y: "f", stroke: "#ff1a1a", strokeWidth: 2, strokeDasharray: "7,4"}),
      Plot.dot(pts, {x: "x", y: "f", r: 3.1, fill: "#141414", fillOpacity: 0.75, stroke: "none"})
    ]
  });
  place(fluxPlot, x0 - ML, top);

  // panel number
  addDiv("num", p.name, x0 + w - 4, top + 3.5);
  // axis labels (left column)
  if (p.col === 0) {
    addDiv("lbl vl", "Flux (mJy)", p.flx, top + FLUXH / 2);
    addDiv("lbl vl", "Residuals (mJy)", p.rlx, top + FLUXH + RESH / 2);
  }
  if (bottom) addDiv("lbl hl", "Orbital Phase", x0 + w / 2, 1735);
}
</script></body></html>
